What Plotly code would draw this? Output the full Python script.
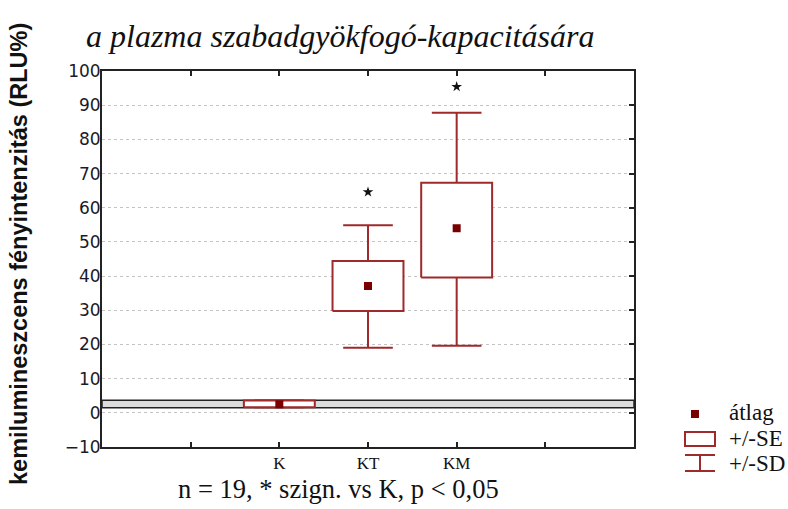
import plotly.graph_objects as go

# Group statistics (RLU%)
categories = ["K", "KT", "KM"]
means = [2.5, 37.1, 54.0]
se_low = [1.6, 29.8, 39.6]
se_high = [3.6, 44.4, 67.3]
sd_low = [1.6, 19.0, 19.6]
sd_high = [3.6, 54.9, 87.8]
star_y = [None, 64.6, 95.4]

band_low, band_high = 1.5, 3.7
y_ticks = [-10, 0, 10, 20, 30, 40, 50, 60, 70, 80, 90, 100]

RED = "#9e2a2b"
DARK = "#7a0000"
BOX_HALF = 0.4
CAP_HALF = 0.28

pos = [i + 1 for i in range(len(categories))]

fig = go.Figure()

# whiskers (+/-SD) with caps
wx, wy = [], []
for p, lo, hi, slo, shi in zip(pos, se_low, se_high, sd_low, sd_high):
    wx += [p, p, None, p - CAP_HALF, p + CAP_HALF, None,
           p, p, None, p - CAP_HALF, p + CAP_HALF, None]
    wy += [hi, shi, None, shi, shi, None,
           lo, slo, None, slo, slo, None]
fig.add_trace(go.Scatter(x=wx, y=wy, mode="lines",
                         line=dict(color=RED, width=2),
                         hoverinfo="skip", showlegend=False))

# boxes (+/-SE)
for p, lo, hi in zip(pos, se_low, se_high):
    fig.add_trace(go.Scatter(
        x=[p - BOX_HALF, p + BOX_HALF, p + BOX_HALF, p - BOX_HALF, p - BOX_HALF],
        y=[lo, lo, hi, hi, lo], mode="lines", fill="toself",
        fillcolor="white", line=dict(color=RED, width=2),
        hoverinfo="skip", showlegend=False))

# means
fig.add_trace(go.Scatter(x=pos, y=means, mode="markers",
                         marker=dict(symbol="square", size=8, color=DARK),
                         showlegend=False))

# significance stars
fig.add_trace(go.Scatter(x=pos, y=star_y, mode="markers",
                         marker=dict(symbol="star", size=8, color="#111111"),
                         showlegend=False))

# invisible trace on the right-hand axis so its ticks are drawn
fig.add_trace(go.Scatter(x=[pos[0]], y=[0], yaxis="y2", mode="markers",
                         marker=dict(opacity=0), hoverinfo="skip",
                         showlegend=False))

# reference band
fig.add_shape(type="rect", xref="paper", yref="y", x0=0, x1=1,
              y0=band_low, y1=band_high, fillcolor="#dcdcdc",
              line=dict(color="#222222", width=1.5), layer="between")

# legend drawn by hand
L, T, W, H = 102, 71, 532, 376


def px(x):
    return (x - L) / W


def py(y):
    return (T + H - y) / H


fig.add_shape(type="rect", xref="paper", yref="paper",
              x0=px(691), x1=px(699), y0=py(418), y1=py(410),
              fillcolor=DARK, line=dict(width=0))
fig.add_shape(type="rect", xref="paper", yref="paper",
              x0=px(685), x1=px(715), y0=py(446), y1=py(432),
              fillcolor="white", line=dict(color=RED, width=2))
fig.add_shape(type="line", xref="paper", yref="paper",
              x0=px(685), x1=px(715), y0=py(455), y1=py(455),
              line=dict(color=RED, width=2))
fig.add_shape(type="line", xref="paper", yref="paper",
              x0=px(685), x1=px(715), y0=py(471), y1=py(471),
              line=dict(color=RED, width=2))
fig.add_shape(type="line", xref="paper", yref="paper",
              x0=px(700), x1=px(700), y0=py(455), y1=py(471),
              line=dict(color=RED, width=2))

serif = "Liberation Serif"
for label, yy in [("átlag", 412), ("+/-SE", 438), ("+/-SD", 463)]:
    fig.add_annotation(text=label, xref="paper", yref="paper",
                       x=px(727), y=py(yy), xanchor="left", yanchor="middle",
                       showarrow=False, font=dict(family=serif, size=23, color="#111111"))

# title line and footnote
fig.add_annotation(text="<i>a plazma szabadgyökfogó-kapacitására</i>",
                   xref="paper", yref="paper", x=px(340), y=py(36),
                   xanchor="center", yanchor="middle", showarrow=False,
                   font=dict(family=serif, size=32, color="#111111"))
fig.add_annotation(text="n = 19, * szign. vs K, p &lt; 0,05",
                   xref="paper", yref="paper", x=px(338), y=py(489),
                   xanchor="center", yanchor="middle", showarrow=False,
                   font=dict(family=serif, size=26.5, color="#111111"))

# y axis title
fig.add_annotation(text="<b>kemilumineszcens fényintenzitás (RLU%)</b>",
                   xref="paper", yref="paper", x=px(19), y=py(254),
                   xanchor="center", yanchor="middle", textangle=-90,
                   showarrow=False,
                   font=dict(family="Liberation Sans", size=23.5, color="#111111"))

fig.update_layout(
    width=788, height=509,
    margin=dict(l=L, r=788 - L - W, t=T, b=509 - T - H),
    paper_bgcolor="white", plot_bgcolor="white",
    showlegend=False,
    xaxis=dict(range=[-1, 5], tickvals=[0, 1, 2, 3, 4],
               ticktext=["", "K", "KT", "KM", ""],
               ticks="inside", ticklen=5, tickwidth=1.5, tickcolor="#222222",
               showline=True, linecolor="#222222", linewidth=2, mirror="ticks",
               showgrid=False, zeroline=False,
               tickfont=dict(family=serif, size=17, color="#111111")),
    yaxis=dict(range=[-10, 100], tickvals=y_ticks,
               ticks="", ticklabelstandoff=-4,
               showline=True, linecolor="#222222", linewidth=2,
               mirror=True, showgrid=True, gridcolor="#c4c4c4",
               griddash="dot", gridwidth=1, zeroline=False,
               tickfont=dict(family="DejaVu Sans", size=17, color="#1a1a2a")),
    yaxis2=dict(range=[-10, 100], overlaying="y", side="right",
                tickvals=[0, 10, 20, 30, 40, 50, 60, 70, 80, 90],
                ticks="inside", ticklen=5, tickwidth=2, tickcolor="#222222",
                showticklabels=False, showgrid=False, zeroline=False,
                showline=False),
)

fig.write_html("out.html")
